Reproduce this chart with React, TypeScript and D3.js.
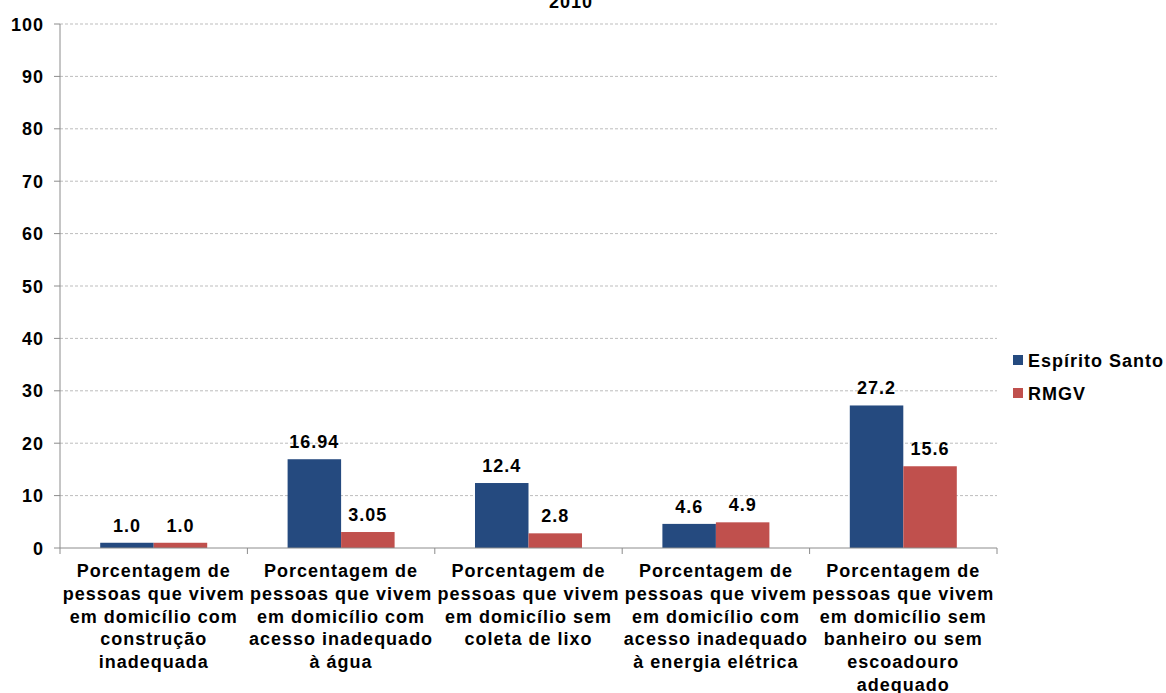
import React from "react";
import * as d3 from "d3";

const categories: string[] = [
  "Porcentagem de\npessoas que vivem\nem domicílio com\nconstrução\ninadequada",
  "Porcentagem de\npessoas que vivem\nem domicílio com\nacesso inadequado\nà água",
  "Porcentagem de\npessoas que vivem\nem domicílio sem\ncoleta de lixo",
  "Porcentagem de\npessoas que vivem\nem domicílio com\nacesso inadequado\nà energia elétrica",
  "Porcentagem de\npessoas que vivem\nem domicílio sem\nbanheiro ou sem\nescoadouro\nadequado",
];
const seriesNames: string[] = ["Espírito Santo", "RMGV"];
const espiritoSanto: number[] = [1.0, 16.94, 12.4, 4.6, 27.2];
const rmgv: number[] = [1.0, 3.05, 2.8, 4.9, 15.6];
const espiritoSantoLabels: string[] = ["1.0", "16.94", "12.4", "4.6", "27.2"];
const rmgvLabels: string[] = ["1.0", "3.05", "2.8", "4.9", "15.6"];
const yTicks: number[] = [0, 10, 20, 30, 40, 50, 60, 70, 80, 90, 100];
const title = "2010";

const colors = ["#254A7F", "#C0504D"];
const FONT = "'Liberation Sans', Arial, sans-serif";

export default function App() {
  const W = 1166, H = 693;
  const left = 60, right = 997, top = 24, bottom = 548;
  const y = d3.scaleLinear().domain([0, 100]).range([bottom, top]);
  const x = d3.scaleBand<number>().domain(categories.map((_, i) => i)).range([left, right]).padding(0);
  const step = x.bandwidth();
  const groupW = step * 0.571;
  const xs = d3.scaleBand<number>().domain([0, 1]).range([0, groupW]).padding(0);
  const series = [
    { name: seriesNames[0], values: espiritoSanto, labels: espiritoSantoLabels },
    { name: seriesNames[1], values: rmgv, labels: rmgvLabels },
  ];
  const textStyle = { fontFamily: FONT, fontWeight: 700, fontSize: 18, letterSpacing: 1, fill: "#000" } as const;

  return (
    <svg width={W} height={H} style={{ position: "absolute", left: 0, top: 0, background: "#fff" }}>
      <text x={571} y={8} textAnchor="middle" style={textStyle}>{title}</text>
      {yTicks.map((t) => (
        <g key={t}>
          {t > 0 && (
            <line x1={left} x2={right} y1={y(t)} y2={y(t)} stroke="#BDBDBD" strokeWidth={1} strokeDasharray="3,2" />
          )}
          <line x1={54} x2={left} y1={y(t)} y2={y(t)} stroke="#8C8C8C" strokeWidth={1} />
          <text x={44} y={y(t) + 6.5} textAnchor="end" style={textStyle}>{t}</text>
        </g>
      ))}
      {series.map((s, si) =>
        s.values.map((v, ci) => {
          const bx = (x(ci) as number) + (step - groupW) / 2 + (xs(si) as number);
          return (
            <g key={`${si}-${ci}`}>
              <rect x={bx} y={y(v)} width={xs.bandwidth()} height={bottom - y(v)} fill={colors[si]} />
              <text x={bx + xs.bandwidth() / 2} y={y(v) - 11} textAnchor="middle" style={textStyle}>{s.labels[ci]}</text>
            </g>
          );
        })
      )}
      <line x1={left} x2={left} y1={top} y2={bottom} stroke="#8C8C8C" strokeWidth={1} />
      <line x1={left} x2={right} y1={bottom} y2={bottom} stroke="#8C8C8C" strokeWidth={1} />
      {categories.map((_, i) => (
        <line key={`t${i}`} x1={x(i) as number} x2={x(i) as number} y1={bottom} y2={bottom + 6} stroke="#8C8C8C" />
      ))}
      <line x1={right} x2={right} y1={bottom} y2={bottom + 6} stroke="#8C8C8C" />
      {categories.map((c, i) => (
        <text key={`c${i}`} textAnchor="middle" style={textStyle}>
          {c.split("\n").map((line, li) => (
            <tspan key={li} x={(x(i) as number) + step / 2} y={577 + li * 22.8}>{line}</tspan>
          ))}
        </text>
      ))}
      {series.map((s, si) => (
        <g key={`l${si}`}>
          <rect x={1013} y={355 + si * 33} width={10} height={10} fill={colors[si]} />
          <text x={1028} y={367 + si * 33} style={textStyle}>{s.name}</text>
        </g>
      ))}
    </svg>
  );
}
